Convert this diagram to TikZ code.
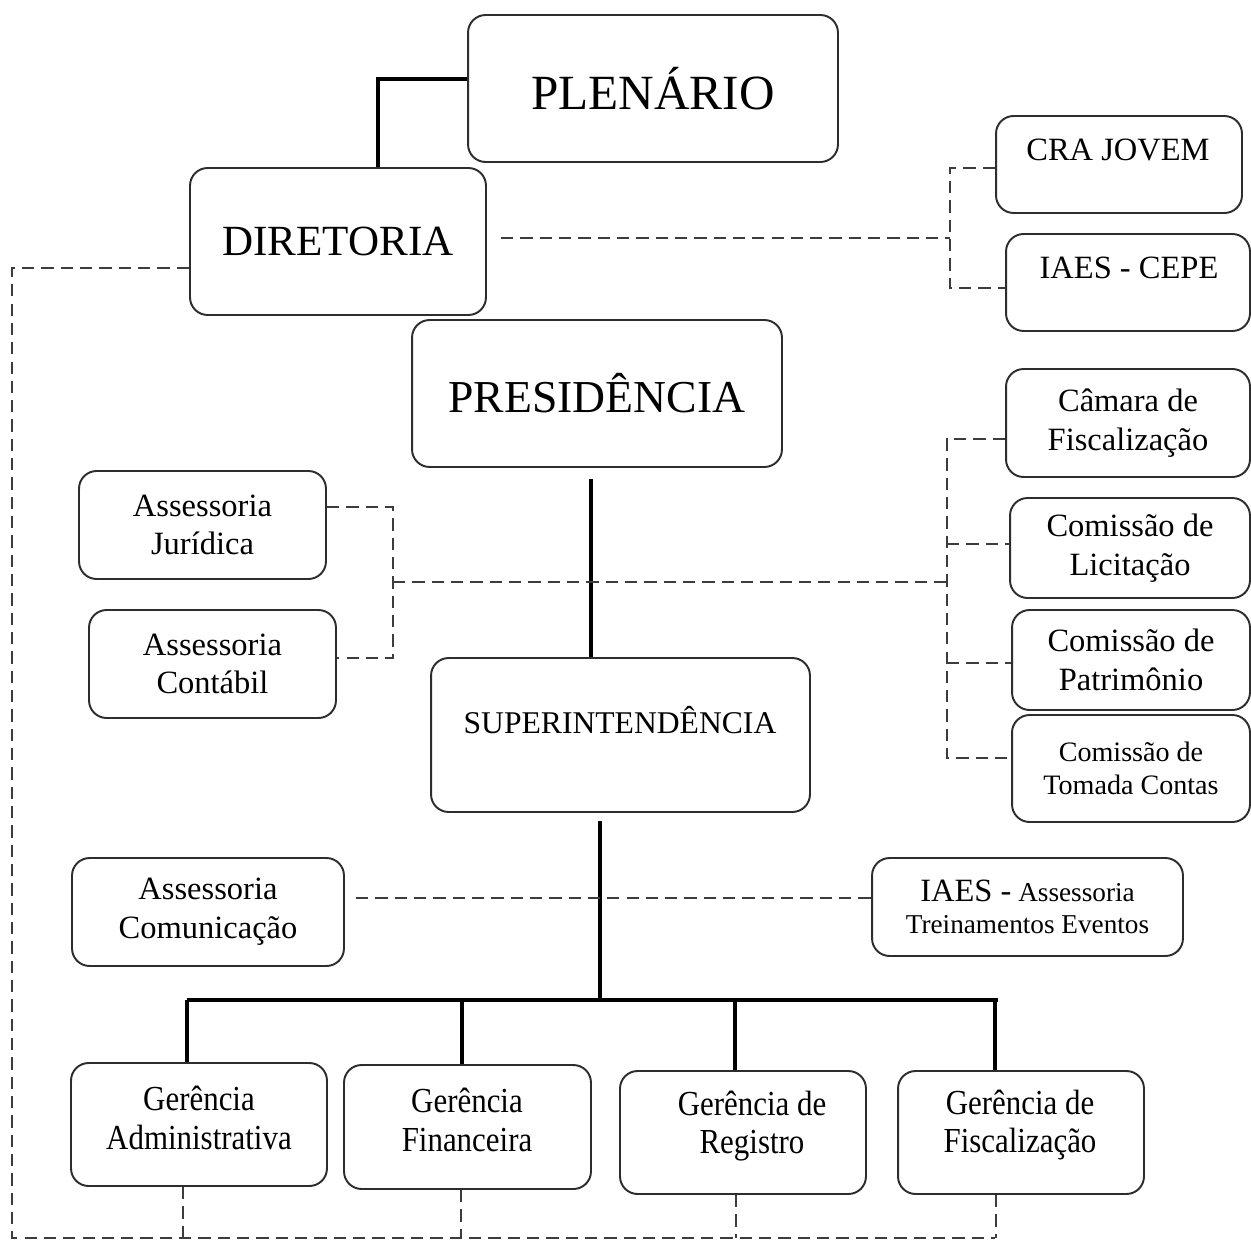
\documentclass[tikz,border=0pt]{standalone}
\usepackage{fontspec}
\setmainfont{Liberation Serif}
\newfontfamily\narrowserif{Liberation Serif}[FakeStretch=0.88]
\usepackage{xcolor}
\definecolor{boxline}{RGB}{45, 45, 45}
\definecolor{dashgray}{RGB}{60, 60, 60}
\usepackage{tikz}
\usetikzlibrary{calc, positioning}
\tikzstyle{unit} = [rectangle, draw=boxline, line width=1.1pt, rounded corners=10pt, fill=white, align=center, inner sep=2pt, font=\fontsize{18.5}{22}\selectfont]
\tikzstyle{txt} = [align=center, inner sep=0pt, font=\fontsize{18.5}{22}\selectfont]
\tikzstyle{gerencia} = [align=center, inner sep=0pt, font=\narrowserif\fontsize{20}{22}\selectfont]
\tikzstyle{solidlink} = [line width=2.8pt, black]
\tikzstyle{dashlink} = [line width=1.1pt, dashgray, dash pattern=on 7pt off 4pt]

\begin{document}
\begin{tikzpicture}[x=0.02cm, y=-0.02cm]
    \useasboundingbox (0,0) rectangle (1251,1240);

    \node[unit, minimum width=7.4cm, minimum height=2.94cm, font=\fontsize{28}{32}\selectfont] (plenario) at (653,88.5) {PLENÁRIO};
    \node[unit, minimum width=5.92cm, minimum height=2.94cm, font=\fontsize{24.5}{28}\selectfont] (diretoria) at (338,241.5) {DIRETORIA};
    \node[unit, minimum width=4.92cm, minimum height=1.94cm] (crajovem) at (1119,164.5) {};
    \node[txt] (crajovem-t) at (1118,150) {CRA JOVEM};
    \node[unit, minimum width=4.88cm, minimum height=1.94cm] (cepe) at (1128,282.5) {};
    \node[txt] (cepe-t) at (1129,268) {IAES - CEPE};
    \node[unit, minimum width=7.4cm, minimum height=2.94cm, font=\fontsize{26}{30}\selectfont] (presidencia) at (597,393.5) {PRESIDÊNCIA};

    \node[unit, minimum width=4.88cm, minimum height=2.16cm] (camara) at (1128,423) {Câmara de\\Fiscalização};
    \node[unit, minimum width=4.8cm, minimum height=2cm] (licitacao) at (1130,548) {Comissão de\\Licitação};
    \node[unit, minimum width=4.76cm, minimum height=2cm] (patrimonio) at (1131,660) {Comissão de\\Patrimônio};
    \node[unit, minimum width=4.76cm, minimum height=2.14cm, font=\fontsize{16}{19}\selectfont] (tomada) at (1131,768.5) {Comissão de\\Tomada Contas};

    \node[unit, minimum width=4.94cm, minimum height=2.16cm] (juridica) at (202.5,525) {Assessoria\\Jurídica};
    \node[unit, minimum width=4.94cm, minimum height=2.16cm] (contabil) at (212.5,664) {Assessoria\\Contábil};

    \node[unit, minimum width=7.58cm, minimum height=3.08cm] (superint) at (620.5,735) {};
    \node[txt, font=\fontsize{18}{22}\selectfont] (superint-t) at (620,720) {SUPERINTENDÊNCIA};

    \node[unit, minimum width=5.44cm, minimum height=2.16cm] (comunic) at (208,912) {Assessoria\\Comunicação};
    \node[unit, minimum width=6.22cm, minimum height=1.96cm, font=\fontsize{15.5}{18.5}\selectfont] (iaesat) at (1027.5,907) {{\fontsize{18.5}{18.5}\selectfont IAES -} Assessoria\\Treinamentos Eventos};

    \node[unit, minimum width=5.12cm, minimum height=2.46cm] (gadm) at (199,1124.5) {};
    \node[gerencia] (gadm-t) at (199,1118) {Gerência\\Administrativa};
    \node[unit, minimum width=4.94cm, minimum height=2.48cm] (gfin) at (467.5,1127) {};
    \node[gerencia] (gfin-t) at (467,1120) {Gerência\\Financeira};
    \node[unit, minimum width=4.92cm, minimum height=2.46cm] (greg) at (743,1132.5) {};
    \node[gerencia] (greg-t) at (752,1126) {Gerência de\\Registro};
    \node[unit, minimum width=4.92cm, minimum height=2.46cm] (gfis) at (1021,1132.5) {};
    \node[gerencia] (gfis-t) at (1020,1125) {Gerência de\\Fiscalização};

    \coordinate (dirj) at (950,238);
    \coordinate (asj) at (393,582);
    \coordinate (comj) at (947,582);
    \coordinate (bus) at (600,1000);
    \coordinate (rail) at (12,1238);

    \draw[solidlink] (plenario.west |- 0,79) -| (378,0 |- diretoria.north);
    \draw[solidlink] ($(591,0 |- presidencia.south)+(0,11)$) -- (591,0 |- superint.north);
    \draw[solidlink] ($(superint.south)+(-20.5,8)$) -- (bus);
    \draw[solidlink] (187,0 |- bus) -- (998,0 |- bus);
    \foreach \n/\x in {gadm/187, gfin/462, greg/735, gfis/995}
        \draw[solidlink] (\x,0 |- bus) -- (\x,0 |- \n.north);

    \draw[dashlink] ($(diretoria.east |- dirj)+(14,0)$) -- (dirj);
    \draw[dashlink] (crajovem.west |- 0,168) -| (dirj) |- (cepe.west |- 0,288);

    \draw[dashlink] (asj) -- (comj);
    \draw[dashlink] (juridica.east |- 0,507) -| (asj) |- (contabil.east |- 0,658);
    \draw[dashlink] (camara.west |- 0,439) -| (comj |- 0,758) -- (tomada.west |- 0,758);
    \foreach \n/\y in {licitacao/544, patrimonio/663}
        \draw[dashlink] (comj |- 0,\y) -- (\n.west |- 0,\y);

    \draw[dashlink] ($(comunic.east |- 0,898)+(11,0)$) -- (iaesat.west |- 0,898);

    \draw[dashlink] (diretoria.west |- 0,268) -| (rail) -- (995,0 |- rail);
    \foreach \n/\x in {gadm/183, gfin/461, greg/736, gfis/996}
        \draw[dashlink] (\x,0 |- \n.south) -- (\x,0 |- rail);
\end{tikzpicture}
\end{document}
